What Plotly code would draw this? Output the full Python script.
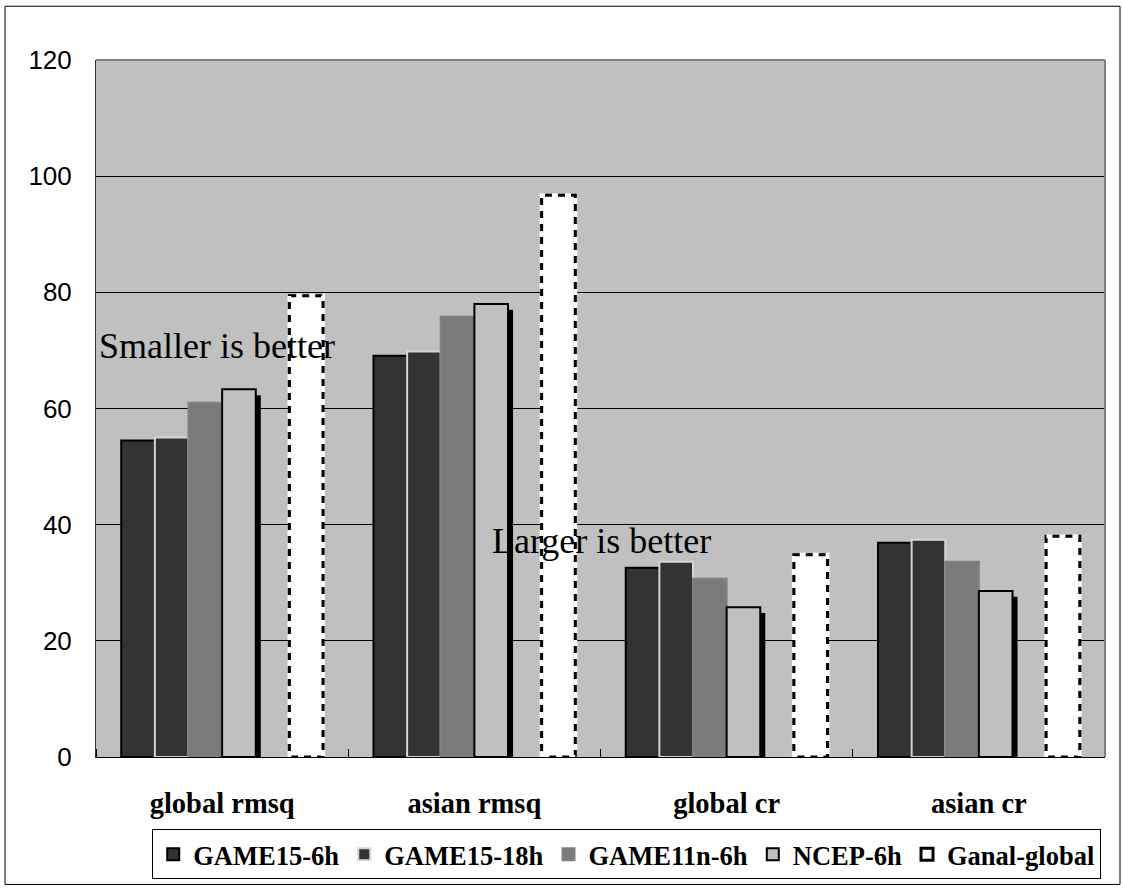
import plotly.graph_objects as go

categories = ["global rmsq", "asian rmsq", "global cr", "asian cr"]
game15_6h = [54.5, 69.1, 32.6, 36.9]
game15_18h = [55.0, 69.8, 33.6, 37.4]
game11n_6h = [61.0, 75.8, 30.7, 33.6]
ncep_6h = [63.3, 78.0, 25.8, 28.6]
ganal_global = [79.4, 96.7, 34.8, 38.0]
y_ticks = [0, 20, 40, 60, 80, 100, 120]

xs = list(range(len(categories)))
slot = 0.8 / 6
def off(k):
    return -0.4 + k * slot

fig = go.Figure()

fig.add_bar(x=xs, y=game15_6h, name="GAME15-6h", width=slot, offset=off(0),
            marker=dict(color="#333333", line=dict(color="black", width=2)))
fig.add_bar(x=xs, y=game15_18h, name="GAME15-18h", width=slot, offset=off(1),
            marker=dict(color="#333333", line=dict(color="#d6d6d6", width=2)))
fig.add_bar(x=xs, y=game11n_6h, name="GAME11n-6h", width=slot, offset=off(2),
            marker=dict(color="#7a7a7a", line=dict(color="#808080", width=2)))
# shadow of NCEP bars
fig.add_bar(x=xs, y=ncep_6h, base=-1.0, width=slot, offset=off(3) + 0.02,
            marker=dict(color="black", line=dict(width=0)), showlegend=False, hoverinfo="skip")
fig.add_bar(x=xs, y=ncep_6h, name="NCEP-6h", width=slot, offset=off(3),
            marker=dict(color="#C0C0C0", line=dict(color="black", width=2)))
fig.add_bar(x=xs, y=ganal_global, name="Ganal-global", width=slot, offset=off(5),
            marker=dict(color="white", line=dict(color="black", width=3)))

# white dashed overlay to make the Ganal outline dashed
ox, oy = [], []
for i, v in zip(xs, ganal_global):
    x0 = i + off(5)
    x1 = x0 + slot
    ox += [x0, x0, x1, x1, x0, None]
    oy += [0, v, v, 0, 0, None]
fig.add_scatter(x=ox, y=oy, mode="lines", showlegend=False, hoverinfo="skip",
                line=dict(color="white", width=4, dash="6px,7px"))

fig.add_annotation(x=-0.496, y=70.8, xref="x", yref="y", text="Smaller is better",
                   showarrow=False, xanchor="left", yanchor="middle",
                   font=dict(family="Liberation Serif", size=36, color="black"))
fig.add_annotation(x=1.062, y=37.2, xref="x", yref="y", text="Larger is better",
                   showarrow=False, xanchor="left", yanchor="middle",
                   font=dict(family="Liberation Serif", size=36, color="black"))

# top/right gray frame of plot area
fig.add_shape(type="line", xref="x domain", yref="y domain", x0=0, x1=1, y0=1, y1=1,
              line=dict(color="#808080", width=2))
fig.add_shape(type="line", xref="x domain", yref="y domain", x0=1, x1=1, y0=0, y1=1,
              line=dict(color="#808080", width=2))
# outer frame
fig.add_shape(type="rect", xref="paper", yref="paper",
              x0=(5 - 96) / 1009, x1=(1120 - 96) / 1009,
              y0=(760 - 888) / 700, y1=(760 - 6) / 700,
              line=dict(color="black", width=1), layer="below")

fig.update_layout(
    width=1123, height=891,
    margin=dict(l=96, r=18, t=60, b=131),
    paper_bgcolor="white", plot_bgcolor="#C0C0C0",
    barmode="overlay",
    showlegend=True,
    legend=dict(orientation="h", x=0.526, xanchor="center", y=-0.104, yanchor="top",
                bgcolor="white", bordercolor="black", borderwidth=1,
                font=dict(family="Liberation Serif", size=26.5, color="black", weight="bold"),
                itemclick=False),
    xaxis=dict(range=[-0.5, 3.5], tickvals=xs, ticktext=categories, ticks="",
               showgrid=False, zeroline=False, showline=True, linecolor="black", linewidth=1,
               ticklabelstandoff=21,
               tickfont=dict(family="Liberation Serif", size=28.5, color="black", weight="bold"),
               minor=dict(tickvals=[-0.5, 0.5, 1.5, 2.5, 3.5], ticks="inside", ticklen=8,
                          tickcolor="black", tickwidth=1, showgrid=False)),
    yaxis=dict(range=[0, 120], tickvals=y_ticks, ticks="", showgrid=True, gridcolor="black",
               gridwidth=1, zeroline=False, showline=True, linecolor="#333333", linewidth=1,
               ticklabelstandoff=18,
               tickfont=dict(family="Liberation Sans", size=26, color="black")),
)

fig.write_html("out.html", config={"displayModeBar": False},
               post_script="document.body.style.margin='0';")
